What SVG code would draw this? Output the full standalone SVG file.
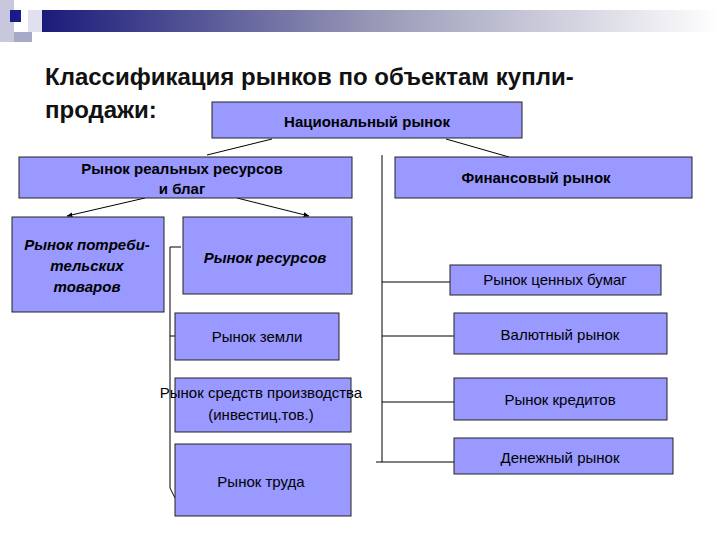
<svg xmlns="http://www.w3.org/2000/svg" width="720" height="540" viewBox="0 0 720 540">
<defs>
<linearGradient id="bar" x1="0" x2="1" y1="0" y2="0"><stop offset="0" stop-color="#1a1a7a"/><stop offset="0.5" stop-color="#9a9ab8"/><stop offset="1" stop-color="#ffffff"/></linearGradient>
<marker id="ar" viewBox="0 0 10 10" refX="9" refY="5" markerWidth="6" markerHeight="6" orient="auto"><path d="M0,1 L10,5 L0,9 z" fill="#000"/></marker>
<style>
.b{fill:#9999ff;stroke:#222;stroke-width:1}
.t{font-family:"Liberation Sans",Arial,sans-serif;font-size:15px;fill:#000;text-anchor:middle}
.bt{font-weight:bold}
.it{font-style:italic;font-weight:bold}
.l{stroke:#000;stroke-width:1;fill:none}
</style>
</defs>
<rect width="720" height="540" fill="#fff"/>
<rect x="40" y="10" width="680" height="22" fill="url(#bar)"/>
<rect x="0" y="0" width="14" height="42" fill="#c8c8dc"/>
<rect x="14" y="32" width="18" height="10" fill="#a8a8c8"/>
<rect x="28" y="10" width="14" height="22" fill="#e0e0ee"/>
<rect x="10" y="10" width="11" height="12" fill="#1a1a8a"/>
<text x="45" y="85" font-family="'Liberation Sans',Arial,sans-serif" font-size="24" font-weight="bold" fill="#111">Классификация рынков по объектам купли-</text>
<text x="45" y="118" font-family="'Liberation Sans',Arial,sans-serif" font-size="24" font-weight="bold" fill="#111">продажи:</text>
<g id="connectors">
<line class="l" x1="272" y1="139" x2="207" y2="155"/>
<line class="l" x1="446" y1="139" x2="509" y2="157"/>
<line class="l" x1="145" y1="198" x2="67" y2="216" marker-end="url(#ar)" stroke-width="1.5"/>
<line class="l" x1="237" y1="198" x2="309" y2="216" marker-end="url(#ar)" stroke-width="1.5"/>
<polyline class="l" points="181,247 170,247 170,488 175,498"/>
<line class="l" x1="170" y1="336" x2="175" y2="336"/>
<line class="l" x1="382" y1="155" x2="382" y2="462"/>
<line class="l" x1="382" y1="282" x2="450" y2="282"/>
<line class="l" x1="382" y1="336" x2="454" y2="336"/>
<line class="l" x1="382" y1="402" x2="454" y2="402"/>
<line class="l" x1="376" y1="462" x2="454" y2="462"/>
</g>
<g id="national"><rect class="b" x="212" y="102" width="310" height="36"/><text class="t bt" x="367" y="127" font-size="20">Национальный рынок</text></g>
<g id="real"><rect class="b" x="19" y="157" width="333" height="41"/><text class="t bt" x="182" y="174">Рынок реальных ресурсов</text><text class="t bt" x="182" y="194">и благ</text></g>
<g id="financial"><rect class="b" x="395" y="157" width="297" height="41"/><text class="t bt" x="536" y="183">Финансовый рынок</text></g>
<g id="consumer"><rect class="b" x="12" y="217" width="152" height="95"/><text class="t it" x="87" y="250">Рынок потреби-</text><text class="t it" x="87" y="271">тельских</text><text class="t it" x="87" y="292">товаров</text></g>
<g id="resources"><rect class="b" x="183" y="217" width="169" height="77"/><text class="t it" x="265" y="263">Рынок ресурсов</text></g>
<g id="securities"><rect class="b" x="450" y="265" width="211" height="30"/><text class="t" x="555" y="285">Рынок ценных бумаг</text></g>
<g id="land"><rect class="b" x="175" y="313" width="164" height="47"/><text class="t" x="257" y="342">Рынок земли</text></g>
<g id="means"><rect class="b" x="175" y="378" width="176" height="54"/><text class="t" x="261" y="398">Рынок средств производства</text><text class="t" x="261" y="420">(инвестиц.тов.)</text></g>
<g id="labour"><rect class="b" x="175" y="444" width="176" height="72"/><text class="t" x="261" y="487">Рынок труда</text></g>
<g id="valuta"><rect class="b" x="454" y="313" width="213" height="41"/><text class="t" x="560" y="340">Валютный рынок</text></g>
<g id="credits"><rect class="b" x="454" y="378" width="213" height="42"/><text class="t" x="560" y="405">Рынок кредитов</text></g>
<g id="money"><rect class="b" x="454" y="438" width="219" height="36"/><text class="t" x="560" y="463">Денежный рынок</text></g>
</svg>
